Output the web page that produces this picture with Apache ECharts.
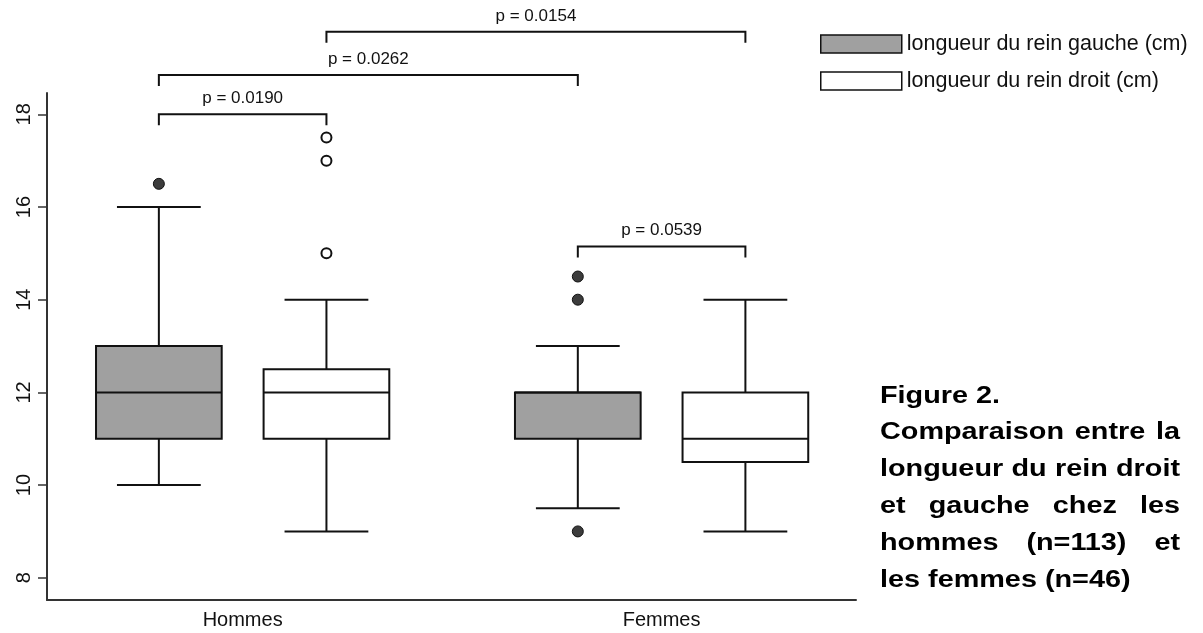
<!DOCTYPE html>
<html>
<head>
<meta charset="utf-8">
<script src="https://cdn.jsdelivr.net/npm/echarts@6/dist/echarts.min.js"></script>
<style>
  html, body { margin: 0; padding: 0; background: #fff; }
  #main { width: 1203px; height: 633px; }
</style>
</head>
<body>
<div id="main"></div>
<script>
const categories = ['Hommes', 'Femmes'];
const seriesNames = ['longueur du rein gauche (cm)', 'longueur du rein droit (cm)'];
// [min, Q1, médiane, Q3, max] par catégorie
const gaucheStats = [[10, 11, 12, 13, 16], [9.5, 11, 12, 12, 13]];
const droitStats = [[9, 11, 12, 12.5, 14], [9, 10.5, 11, 12, 14]];
const gaucheOutliers = [[16.5], [14.5, 14, 9]];
const droitOutliers = [[17.5, 17, 15], []];
const yTicks = [8, 10, 12, 14, 16, 18];
// comparaisons : [catégorie, série] -> [catégorie, série]
const pLabels = ['p = 0.0190', 'p = 0.0262', 'p = 0.0154', 'p = 0.0539'];
const pFrom = [[0, 0], [0, 0], [0, 1], [1, 0]];
const pTo = [[0, 1], [1, 0], [1, 1], [1, 1]];
const pLevel = [18, 18.85, 19.78, 15.15];
const captionLines = [
  'Figure 2.',
  'Comparaison entre la',
  'longueur du rein droit',
  'et gauche chez les',
  'hommes (n=113) et',
  'les femmes (n=46)'
];

const FONT = '"Liberation Sans", Arial, sans-serif';
const OFFSETS = [-0.2, 0.2];
const BOX_HALF = 0.15;
const CAP_HALF = 0.1;
const INK = '#111';

function boxRender(offset, fill) {
  return function (params, api) {
    const x = api.value(0) + offset;
    const p = i => api.coord([x, api.value(i)]);
    const lo = p(1), q1 = p(2), med = p(3), q3 = p(4), hi = p(5);
    const bl = api.coord([x - BOX_HALF, 0])[0], br = api.coord([x + BOX_HALF, 0])[0];
    const cl = api.coord([x - CAP_HALF, 0])[0], cr = api.coord([x + CAP_HALF, 0])[0];
    const ls = { stroke: INK, lineWidth: 2 };
    return {
      type: 'group',
      children: [
        { type: 'line', shape: { x1: lo[0], y1: lo[1], x2: q1[0], y2: q1[1] }, style: ls },
        { type: 'line', shape: { x1: q3[0], y1: q3[1], x2: hi[0], y2: hi[1] }, style: ls },
        { type: 'line', shape: { x1: cl, y1: lo[1], x2: cr, y2: lo[1] }, style: ls },
        { type: 'line', shape: { x1: cl, y1: hi[1], x2: cr, y2: hi[1] }, style: ls },
        { type: 'rect', shape: { x: bl, y: q3[1], width: br - bl, height: q1[1] - q3[1] },
          style: { fill: fill, stroke: INK, lineWidth: 2 } },
        { type: 'line', shape: { x1: bl, y1: med[1], x2: br, y2: med[1] }, style: ls }
      ]
    };
  };
}

function bracketRender(params, api) {
  const a = api.coord([api.value(0), api.value(2)]);
  const b = api.coord([api.value(1), api.value(2)]);
  const drop = 11;
  return {
    type: 'group',
    children: [
      { type: 'polyline',
        shape: { points: [[a[0], a[1] + drop], [a[0], a[1]], [b[0], b[1]], [b[0], b[1] + drop]] },
        style: { stroke: INK, lineWidth: 2, fill: null } },
      { type: 'text', x: (a[0] + b[0]) / 2, y: a[1] - 16,
        style: { text: pLabels[api.value(3)], fontSize: 17, fontFamily: FONT, fill: INK,
                 align: 'center', verticalAlign: 'middle' } }
    ]
  };
}

const bracketData = pLabels.map((_, i) => [
  pFrom[i][0] + OFFSETS[pFrom[i][1]],
  pTo[i][0] + OFFSETS[pTo[i][1]],
  pLevel[i],
  i
]);

// légende du texte, justifiée
const measureCtx = document.createElement('canvas').getContext('2d');
const CAP_FONT = 'bold 24px "Liberation Sans", Arial, sans-serif';
measureCtx.font = CAP_FONT;
const SX = 1.2;
const CAP_LEFT = 880, CAP_RIGHT = 1180, CAP_TOP = 396, CAP_STEP = 36.8;
const captionEls = [];
captionLines.forEach((line, li) => {
  const y = CAP_TOP + li * CAP_STEP;
  const justify = li > 0 && li < captionLines.length - 1;
  const words = line.split(' ');
  const widths = words.map(w => measureCtx.measureText(w).width * SX);
  const spaceW = measureCtx.measureText(' ').width * SX;
  let gap = spaceW;
  if (justify && words.length > 1) {
    gap = Math.max(spaceW * 0.6, (CAP_RIGHT - CAP_LEFT - widths.reduce((s, w) => s + w, 0)) / (words.length - 1));
  }
  let x = CAP_LEFT;
  words.forEach((w, wi) => {
    captionEls.push({
      type: 'text', x: x, y: y, scaleX: SX,
      style: { text: w, font: CAP_FONT, fill: '#000', verticalAlign: 'middle', align: 'left' }
    });
    x += widths[wi] + gap;
  });
});

const chart = echarts.init(document.getElementById('main'));
chart.setOption({
  animation: false,
  backgroundColor: '#fff',
  grid: { left: 47, right: 347, top: 93, bottom: 33 },
  legend: {
    orient: 'vertical',
    left: 820,
    top: 33,
    padding: 0,
    itemWidth: 81,
    itemHeight: 18,
    itemGap: 15,
    selectedMode: false,
    textStyle: { fontSize: 21.5, fontFamily: FONT, color: '#111' },
    data: [
      { name: seriesNames[0], icon: 'rect', itemStyle: { color: '#a0a0a0', borderColor: INK, borderWidth: 1.5 } },
      { name: seriesNames[1], icon: 'rect', itemStyle: { color: '#fff', borderColor: INK, borderWidth: 1.5 } }
    ]
  },
  xAxis: {
    type: 'value',
    min: -0.467,
    max: 1.464,
    splitLine: { show: false },
    axisTick: { show: false },
    axisLine: { show: true, onZero: false, lineStyle: { color: '#333', width: 2 } },
    axisLabel: {
      customValues: [0, 1],
      formatter: v => categories[Math.round(v)],
      fontSize: 20, fontFamily: FONT, color: '#111', margin: 10
    }
  },
  yAxis: {
    type: 'value',
    min: 7.52,
    max: 18.46,
    axisLine: { show: true, onZero: false, lineStyle: { color: '#333', width: 2 } },
    axisTick: { show: true, customValues: yTicks, length: 9, lineStyle: { color: '#333', width: 1.5 } },
    axisLabel: {
      customValues: yTicks, rotate: 90, fontSize: 20, fontFamily: FONT, color: '#111', margin: 13
    },
    splitLine: { show: false }
  },
  graphic: captionEls,
  series: [
    {
      name: seriesNames[0], type: 'custom', clip: false,
      itemStyle: { color: '#a0a0a0', borderColor: INK },
      renderItem: boxRender(OFFSETS[0], '#a0a0a0'),
      encode: { x: 0, y: [1, 2, 3, 4, 5] },
      data: gaucheStats.map((s, i) => [i].concat(s))
    },
    {
      name: seriesNames[1], type: 'custom', clip: false,
      itemStyle: { color: '#fff', borderColor: INK },
      renderItem: boxRender(OFFSETS[1], '#fff'),
      encode: { x: 0, y: [1, 2, 3, 4, 5] },
      data: droitStats.map((s, i) => [i].concat(s))
    },
    {
      name: 'outliers gauche', type: 'scatter', symbolSize: 11,
      itemStyle: { color: '#3c3c3c', borderColor: INK, borderWidth: 1, opacity: 1 },
      data: gaucheOutliers.flatMap((vals, i) => vals.map(v => [i + OFFSETS[0], v]))
    },
    {
      name: 'outliers droit', type: 'scatter', symbolSize: 10,
      itemStyle: { color: '#fff', borderColor: INK, borderWidth: 2, opacity: 1 },
      data: droitOutliers.flatMap((vals, i) => vals.map(v => [i + OFFSETS[1], v]))
    },
    {
      name: 'comparaisons', type: 'custom', clip: false,
      renderItem: bracketRender,
      encode: { x: [0, 1], y: 2 },
      data: bracketData
    }
  ]
});
</script>
</body>
</html>
